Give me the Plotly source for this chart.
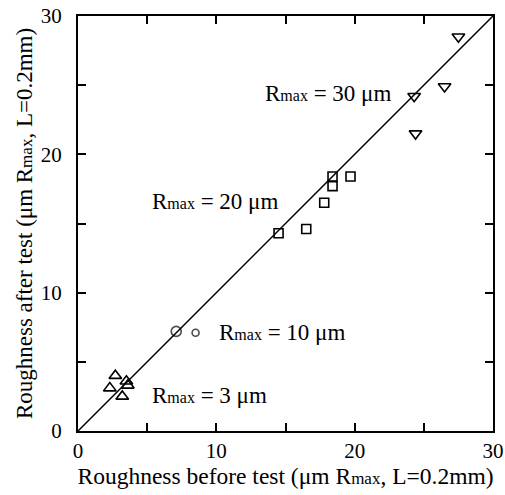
import plotly.graph_objects as go

# Data
tri_down_x = [27.5, 24.3, 26.5, 24.4]          # Rmax = 30 um
tri_down_y = [28.5, 24.2, 24.9, 21.5]
square_x = [18.4, 18.4, 19.7, 17.8, 14.5, 16.5]  # Rmax = 20 um
square_y = [18.4, 17.7, 18.4, 16.5, 14.3, 14.6]
circle_x = [7.1, 8.5]                          # Rmax = 10 um
circle_y = [7.2, 7.1]
tri_up_x = [2.7, 2.3, 3.5, 3.6, 3.2]           # Rmax = 3 um
tri_up_y = [4.0, 3.1, 3.6, 3.3, 2.5]
line_x = [0, 30]
line_y = [0, 30]
tick_vals = [0, 5, 10, 15, 20, 25, 30]
tick_text = ["0", "", "10", "", "20", "", "30"]

labels = ["R<span style='font-size:16px'>max</span> = 30 μm",
          "R<span style='font-size:16px'>max</span> = 20 μm",
          "R<span style='font-size:16px'>max</span> = 10 μm",
          "R<span style='font-size:16px'>max</span> = 3 μm"]
label_x = [13.4, 5.2, 10.05, 5.2]
label_y = [24.4, 16.6, 7.1, 2.6]

FONT = "Liberation Serif, Times New Roman, serif"
fig = go.Figure()
fig.add_trace(go.Scatter(x=line_x, y=line_y, mode="lines",
                         line=dict(color="black", width=1.5), showlegend=False))
mk = dict(color="black", line=dict(color="black", width=1.6))
fig.add_trace(go.Scatter(x=tri_down_x, y=tri_down_y, mode="markers",
                         marker=dict(symbol="triangle-down-open", size=11, **mk), showlegend=False))
fig.add_trace(go.Scatter(x=square_x, y=square_y, mode="markers",
                         marker=dict(symbol="square-open", size=9, **mk), showlegend=False))
fig.add_trace(go.Scatter(x=circle_x, y=circle_y, mode="markers",
                         marker=dict(symbol="circle-open", size=[10, 7], **mk), showlegend=False))
fig.add_trace(go.Scatter(x=tri_up_x, y=tri_up_y, mode="markers",
                         marker=dict(symbol="triangle-up-open", size=11, **mk), showlegend=False))

for t, xx, yy in zip(labels, label_x, label_y):
    fig.add_annotation(x=xx, y=yy, text=t, showarrow=False, xanchor="left",
                       font=dict(family=FONT, size=23, color="black"))

axis_common = dict(range=[0, 30], tickmode="array", tickvals=tick_vals, ticktext=tick_text,
                   ticks="inside", ticklen=8, tickwidth=2, tickcolor="#000000",
                   showline=True, linecolor="black", linewidth=2, mirror="allticks",
                   showgrid=False, zeroline=False,
                   tickfont=dict(family=FONT, size=21, color="black"))
fig.update_xaxes(**axis_common,
                 title=dict(text="Roughness before test (μm R<span style='font-size:17px'>max</span>, L=0.2mm)",
                            font=dict(family=FONT, size=23.5, color="black"), standoff=2))
fig.update_yaxes(**axis_common, ticklabelstandoff=10,
                 title=dict(text="Roughness after test (μm R<span style='font-size:17px'>max</span>, L=0.2mm)",
                            font=dict(family=FONT, size=23, color="black"), standoff=2))
fig.update_layout(width=505, height=495, margin=dict(l=78, r=12, t=16, b=64),
                  plot_bgcolor="white", paper_bgcolor="white", template="none")
fig.write_html("out.html")
